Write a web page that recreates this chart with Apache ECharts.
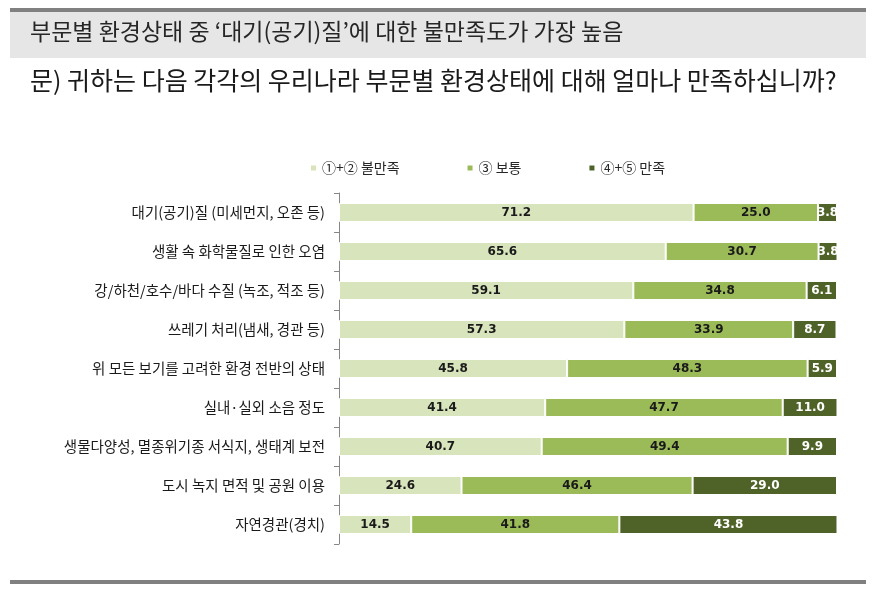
<!DOCTYPE html>
<html>
<head>
<meta charset="utf-8">
<script src="https://cdn.jsdelivr.net/npm/echarts@6/dist/echarts.min.js"></script>
<style>
  html, body { margin: 0; padding: 0; background: #fff; }
  #chart { width: 875px; height: 599px; }
</style>
</head>
<body>
<div id="chart"></div>
<script>
// 항목 (위에서 아래 순서)
const categories = [
  "대기(공기)질 (미세먼지, 오존 등)",
  "생활 속 화학물질로 인한 오염",
  "강/하천/호수/바다 수질 (녹조, 적조 등)",
  "쓰레기 처리(냄새, 경관 등)",
  "위 모든 보기를 고려한 환경 전반의 상태",
  "실내·실외 소음 정도",
  "생물다양성, 멸종위기종 서식지, 생태계 보전",
  "도시 녹지 면적 및 공원 이용",
  "자연경관(경치)"
];
const seriesNames = ["①+② 불만족", "③ 보통", "④+⑤ 만족"];
const dissatisfied = [71.2, 65.6, 59.1, 57.3, 45.8, 41.4, 40.7, 24.6, 14.5];
const neutral = [25.0, 30.7, 34.8, 33.9, 48.3, 47.7, 49.4, 46.4, 41.8];
const satisfied = [3.8, 3.8, 6.1, 8.7, 5.9, 11.0, 9.9, 29.0, 43.8];

const titleText = "부문별 환경상태 중 ‘대기(공기)질’에 대한 불만족도가 가장 높음";
const questionText = "문) 귀하는 다음 각각의 우리나라 부문별 환경상태에 대해 얼마나 만족하십니까?";

const colors = ["#d8e4bc", "#9bbb59", "#4f6228"];
const labelColors = ["#1a1a1a", "#1a1a1a", "#ffffff"];
const valueSets = [dissatisfied, neutral, satisfied];

const chart = echarts.init(document.getElementById("chart"));

const option = {
  backgroundColor: "#ffffff",
  animation: false,
  textStyle: { fontFamily: "'Noto Sans CJK KR', 'Noto Sans', sans-serif" },
  graphic: [
    // 상단 구분선과 제목 상자
    { type: "rect", shape: { x: 10, y: 8, width: 856, height: 4 }, style: { fill: "#808080" } },
    { type: "rect", shape: { x: 10, y: 12, width: 856, height: 46 }, style: { fill: "#e6e6e6" } },
    {
      type: "text", left: 30, top: 20,
      style: { text: titleText, font: "23px 'Noto Sans CJK KR'", fill: "#262626" }
    },
    {
      type: "text", left: 30, top: 68,
      style: { text: questionText, font: "25px 'Noto Sans CJK KR'", fill: "#1a1a1a" }
    },
    // 하단 구분선
    { type: "rect", shape: { x: 10, y: 580, width: 856, height: 4 }, style: { fill: "#808080" } }
  ],
  legend: {
    top: 156,
    left: 304,
    itemWidth: 7,
    itemHeight: 7,
    itemGap: 66,
    icon: "rect",
    textStyle: { fontSize: 14, color: "#262626" },
    data: seriesNames
  },
  grid: { left: 339, right: 38, top: 193, height: 351, containLabel: false },
  xAxis: {
    type: "value",
    min: 0,
    max: 100,
    show: false
  },
  yAxis: {
    type: "category",
    inverse: true,
    data: categories,
    axisLine: { show: true, lineStyle: { color: "#868686" } },
    axisTick: { show: true, length: 5, lineStyle: { color: "#868686" } },
    axisLabel: { fontSize: 14.5, color: "#1a1a1a", margin: 14 }
  },
  series: valueSets.map((vals, i) => ({
    name: seriesNames[i],
    type: "bar",
    stack: "total",
    barWidth: 19,
    itemStyle: { color: colors[i], borderColor: "#ffffff", borderWidth: 1 },
    label: {
      show: true,
      position: "inside",
      formatter: p => p.value.toFixed(1),
      fontSize: 12,
      fontWeight: "bold",
      color: labelColors[i],
      fontFamily: "'DejaVu Sans', sans-serif"
    },
    data: vals
  }))
};

chart.setOption(option);
window.addEventListener("resize", () => chart.resize());
</script>
</body>
</html>
